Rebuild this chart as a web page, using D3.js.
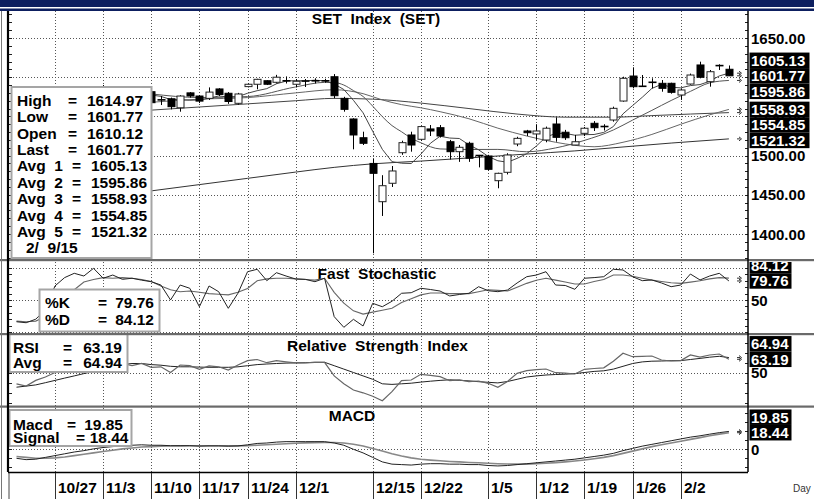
<!DOCTYPE html>
<html>
<head>
<meta charset="utf-8">
<script src="https://cdnjs.cloudflare.com/ajax/libs/d3/7.8.5/d3.min.js"></script>
<style>
body { margin: 0; background: #fff; }
svg text { font-family: "Liberation Sans", Arial, sans-serif; white-space: pre; }
</style>
</head>
<body>
<div id="chart"></div>
<script>

// trading days shown on the chart
var dates = ["10/20","10/21","10/22","10/24","10/27","10/28","10/29","10/30","10/31",
	"11/3","11/4","11/5","11/6","11/7","11/10","11/11","11/12","11/13","11/14",
	"11/17","11/18","11/19","11/20","11/21","11/24","11/25","11/26","11/27","11/28",
	"12/1","12/2","12/3","12/4","12/8","12/9","12/11","12/12","12/15","12/16","12/17","12/18","12/19",
	"12/22","12/23","12/24","12/25","12/26","12/29","12/30",
	"1/5","1/6","1/7","1/8","1/9","1/12","1/13","1/14","1/15","1/16","1/19","1/20","1/21","1/22","1/23",
	"1/26","1/27","1/28","1/29","1/30","2/2","2/3","2/4","2/5","2/6","2/9"];

// week labels on the date axis
var weekLabels = ["10/27","11/3","11/10","11/17","11/24","12/1","12/15","12/22","1/5","1/12","1/19","1/26","2/2"];

// daily prices
var open = [1560,1556,1558,1566,1571,1575,1575,1580,1579,1584,1584,1580,1582,1577,1581.5,1571,1572.5,1561,1580,1576,
	1573,1585,1579.5,1566.7,1588,1591,1595.5,1593.5,1595.3,1591,1595.2,1595.3,1595.3,1600.6,1573,1546.7,1522.8,1490,1441.2,1464.7,
	1503.7,1526.3,1520.8,1534,1535.6,1517.7,1505,1515.7,1500.2,1499.5,1468,1478.7,1514.8,1531.4,1527.6,1519.9,1540.3,1529.8,1513.5,1528.4,
	1541.2,1537.2,1545.4,1569.6,1601.5,1588.5,1593.6,1592.2,1592.2,1577.3,1591.3,1615.6,1594.3,1614.9,1610.12];
var high = [1563,1560,1566,1572,1578,1580,1583,1584,1585,1590,1585,1585,1584,1583,1584,1576,1574,1577,1581,1577,
	1587,1586,1581,1580,1592,1598,1596,1603,1601,1597.7,1597.7,1598.6,1598,1604,1575,1547.6,1530.5,1495.7,1475,1486.7,
	1519,1530.5,1538,1539,1539,1520,1513.5,1517.7,1500.8,1501,1478.2,1503,1524,1532.8,1540,1537,1548.8,1532.8,1526.3,1536.5,
	1544,1540,1562.4,1600.6,1612.6,1602.8,1598.6,1596.4,1593,1585.8,1604.6,1619.8,1609.2,1616.5,1614.97];
var low = [1552,1550,1556,1563,1569,1572,1574,1576,1578,1582,1578,1574,1575,1572,1565,1564.5,1559,1556,1574,1567,
	1571,1576,1566,1565,1587,1584.6,1590,1592,1592,1587,1587.5,1592,1593,1573,1556,1508,1513.5,1375.4,1423,1460,
	1501,1505,1519,1525,1523,1495,1492,1492,1485,1481,1458.3,1476,1512,1525,1520,1517,1517.7,1520,1513.5,1525,
	1531.4,1532,1543.3,1568.7,1585.8,1587.9,1585.8,1581.5,1579,1571,1590.4,1598.6,1587.9,1609.2,1601.77];
var close = [1555,1557,1565,1570,1576,1574,1581,1578,1583,1584,1580,1582,1577,1580,1567.5,1571.2,1562.4,1576,1576,1569.5,
	1581,1578,1569,1578.6,1591,1597.3,1591,1600,1595.5,1594.8,1595,1595.5,1595.5,1576.4,1559,1526.3,1515.7,1477.4,1461.6,1480.4,
	1516.5,1513.5,1537,1531.4,1525,1505,1510.6,1496.6,1500,1482.5,1477.4,1500.8,1522,1529.2,1531.4,1534.9,1523.3,1522.8,1517.7,1534.9,
	1535.6,1537,1560.3,1598.6,1587.9,1588.3,1593.4,1585.8,1580.7,1583.7,1602.8,1599.9,1607,1614.7,1601.77];

// moving average 1, daily from 11/10
var avg1Start = "11/10";
var avg1 = [1577.3,1575.5,1571.6,1571.4,1570.6,1571,1573,1576.1,1574.7,1575.2,1579.5,1582.8,1585.4,1591.6,1595,1595.7,
	1595.3,1596.2,1595.3,1591.4,1584.3,1570.5,1554.6,1531,1508,1492.3,1490.3,1489.9,1501.8,1515.8,1524.7,1522.4,1521.8,
	1513.7,1507.4,1498.9,1493.4,1491.5,1496.5,1502.4,1512.2,1523.7,1528.2,1528.3,1526,1526.7,1526.9,1529.6,1537.1,1553.3,
	1563.9,1574.4,1585.7,1590.8,1587.2,1586.4,1589.3,1590.6,1594.8,1601.6,1605.13];

// moving averages 2 to 5, read at selected days
var avg2 = [["11/10",1578.7],["11/17",1574.1],["11/24",1575.3],["12/1",1587.6],["12/4",1593.4],["12/8",1593.2],
	["12/9",1590],["12/11",1582.9],["12/12",1575.4],["12/15",1563.1],["12/16",1549.7],["12/17",1538.3],["12/18",1530.4],
	["12/19",1522.2],["12/22",1516.4],["12/24",1508.5],["12/29",1507.8],["1/6",1507.9],["1/9",1504.9],["1/14",1509.8],
	["1/19",1519.4],["1/22",1532.7],["1/26",1545.3],["1/28",1557.7],["1/30",1570.3],["2/3",1581.9],["2/5",1592.8],["2/9",1595.86]];
var avg3 = [["11/10",1568],["11/17",1572],["11/24",1574],["12/1",1580],["12/8",1584],["12/12",1579],["12/16",1571],
	["12/18",1565],["12/22",1561],["12/24",1556],["12/29",1547],["1/6",1535],["1/9",1525],["1/14",1517],["1/20",1511.3],
	["1/23",1517],["1/28",1527],["2/2",1540],["2/5",1552],["2/9",1558.93]];
var avg4 = [["11/10",1558],["11/17",1562],["11/24",1566],["12/1",1570],["12/8",1573],["12/15",1572],["12/22",1567],
	["12/29",1560],["1/8",1553],["1/15",1549],["1/22",1549],["1/28",1551],["2/3",1553],["2/9",1554.85]];
var avg5 = [["11/10",1455],["11/17",1463],["11/24",1471],["12/1",1479],["12/8",1485],["12/15",1489.5],["12/22",1493],
	["12/29",1497],["1/9",1502],["1/16",1506],["1/23",1511],["1/30",1516],["2/9",1521.32]];

// fast stochastic
var stochK = [16,14.5,20,35,72,85,91.7,87.5,99.5,84,89,82.3,84,81,78.6,73.4,50,73.4,68.3,39.5,
	71.9,63,37,60.5,94.2,98,80.2,92.7,87.5,82.8,82.3,78.6,84,24,7.3,19.8,9.4,44.8,39.5,48,
	60.5,61.4,68.3,66.4,64,56.3,58.6,60.5,70.8,64.5,63,65.6,76.6,86.4,89,94.2,73.4,72.7,66.7,84,
	85,86.4,98,96.9,86.4,80.2,81.3,76.6,70.8,73.4,90.6,81.3,87.5,91.7,79.76];
var stochD = [17,16,17,24,40,55,66,78,82,85,84,85,84,82,79,72,66,63,64,62,
	60,59,58,62,68,80,83,84,84,83,82,81,84,62,45,33,28,31,34,37,
	46,52,58,61,61,60,60,60,63,66,65,64,70,76,81,84,81,78,75,75,
	79,82,89,89,87,84,81,79,77,76,78,80,83,85,84.12];

// relative strength index
var rsi = [38.7,36.4,42.1,45.5,50,52.3,56.8,55.7,60.2,61.3,57.9,59,56.8,59,55.2,55.7,50,57.5,56.8,53.2,
	56.6,55.7,52.5,57.5,61.8,63,59.8,61.8,60.7,59.6,59.6,60.2,60.2,46.6,38.7,32.5,29.7,26.3,21.8,30.8,
	41.8,42.5,48.2,47.2,45.8,41.8,42.7,40.8,41.5,39.2,35.2,41,49.2,51.8,52.8,53.5,49.8,49.4,48.5,53.2,
	54,54.7,61.3,69.2,65.8,66.2,66.5,62.5,61.5,61.9,67.5,65.3,67.5,68.5,63.19];
var rsiAvg = [35.3,36.4,37.6,39.8,42.1,44.4,46.6,48.9,51.1,54.5,56.8,57.9,59,59,57.9,57.3,56.2,55.7,55.7,55.4,
	55.2,55.2,55.2,55.7,56.8,57.9,58.5,59,59.4,59.6,59.8,60.2,60.2,56.8,53.4,50,46.6,43.2,38.7,38.1,
	38.7,39.3,40.4,41.3,42.1,42.7,42.2,41.6,40.8,40.2,39.6,41,43.2,45.5,46.6,47.5,48,48.3,48.9,50,
	51.1,51.7,53.4,56.2,59,60.6,61.3,61.5,61.8,61.9,63,64.1,65.3,66.2,64.94];

// macd
var macd = [-10,-11.5,-11,-9,-7,-5,-3,-1.5,0.5,2,3,4,4.5,5,4.5,4.5,4,4,4,3.5,
	3.8,3.8,3.5,3.8,5,6.5,7,8,8.5,8.5,8.5,8.5,8.5,7,4.5,0,-4,-9,-14,-16.5,
	-17,-17.5,-16.5,-16,-16,-16.5,-16.5,-17,-17,-18,-18.5,-18,-17,-16,-15,-14,-13,-12,-11,-9.5,
	-8,-6.5,-4.5,-1.5,1,3.5,5.5,7.5,9.5,11.5,13.5,15,16.8,18.5,19.85];
var signal = [-8,-9,-10,-10,-9.5,-8.5,-7,-5.5,-4,-2.5,-1,0.5,1.5,2.5,3,3.5,3.7,3.8,3.9,3.9,
	3.9,3.9,3.8,3.8,4,4.5,5,5.6,6.2,6.7,7.1,7.4,7.6,7.5,7,5.6,3.6,1,-2,-5,
	-7.5,-9.5,-11,-12,-12.8,-13.5,-14,-14.6,-15,-15.5,-16,-16.4,-16.5,-16.5,-16.1,-15.5,-14.8,-14,-13,-11.8,
	-10.5,-9,-7,-4.5,-2,0.5,3,5,7,9,11,13,15,16.9,18.44];

// tick values on the right axes
var priceTicks = [1400,1450,1500,1550,1600,1650];


var fmt = d3.format(".2f");
var last = dates.length - 1;
var plotLeft = 8, plotRight = 748;

// panel heights
var pricePanel = {top: 11, bottom: 259},
	stochPanel = {top: 262, bottom: 334},
	rsiPanel = {top: 336, bottom: 406},
	macdPanel = {top: 408, bottom: 472};

// scales
var x = d3.scalePoint().domain(dates).range([16.5, 728.9]);
var yPrice = d3.scaleLinear().domain([1400, 1650]).range([234, 38]);
var yStoch = d3.scaleLinear().domain([0, 100]).range([332, 268]);
var yRsi = d3.scaleLinear().domain([50, 60]).range([372.5, 362.5]);
var yMacd = d3.scaleLinear().domain([0, 20]).range([449.3, 431.3]);

var svg = d3.select("#chart")
	.append("svg")
	.attr("width", 814)
	.attr("height", 499)
	.style("display", "block");

// clip paths for every panel
var defs = svg.append("defs");
[["price", pricePanel], ["stoch", stochPanel], ["rsi", rsiPanel], ["macd", macdPanel]].forEach(function(p){

	defs.append("clipPath").attr("id", "clip-" + p[0])
		.append("rect")
		.attr("x", plotLeft + 1).attr("y", p[1].top)
		.attr("width", plotRight - plotLeft - 2).attr("height", p[1].bottom - p[1].top);

	defs.append("clipPath").attr("id", "clipr-" + p[0])
		.append("rect")
		.attr("x", plotRight).attr("y", p[1].top)
		.attr("width", 814 - plotRight).attr("height", p[1].bottom - p[1].top);
});

// banner at the top
svg.append("rect").attr("x", 0).attr("y", 0).attr("width", 814).attr("height", 7).attr("fill", "#0d1f60");
svg.append("rect").attr("x", 0).attr("y", 8.5).attr("width", 814).attr("height", 2.5).attr("fill", "#0d1f60");

// dotted grid of one panel
function drawGrid(panel, yScale, values){

	var g = svg.append("g");

	g.selectAll("line.v")
		.data(weekLabels)
		.enter()
		.append("line")
		.attr("x1", function(d){ return Math.round(x(d)) + 0.5; })
		.attr("x2", function(d){ return Math.round(x(d)) + 0.5; })
		.attr("y1", panel.top)
		.attr("y2", panel.bottom)
		.attr("stroke", "#555")
		.attr("stroke-dasharray", "1,2");

	g.selectAll("line.h")
		.data(values)
		.enter()
		.append("line")
		.attr("x1", plotLeft + 2)
		.attr("x2", plotRight - 3)
		.attr("y1", function(d){ return Math.round(yScale(d)) + 0.5; })
		.attr("y2", function(d){ return Math.round(yScale(d)) + 0.5; })
		.attr("stroke", "#555")
		.attr("stroke-dasharray", "1,2");
}

// minor ticks on the left border and right axis
function drawMinorTicks(panel, yScale, step){

	var lo = Math.ceil(yScale.invert(panel.bottom) / step) * step,
		hi = yScale.invert(panel.top + 2);
	var vals = d3.range(lo, hi, step);

	svg.append("g")
		.selectAll("path")
		.data(vals)
		.enter()
		.append("path")
		.attr("d", function(d){
			var yy = Math.round(yScale(d)) + 0.5;
			return "M" + (plotLeft + 1) + "," + yy + "H" + (plotLeft + 4) +
				"M" + (plotRight - 3) + "," + yy + "H" + plotRight;
		})
		.attr("stroke", "#222");
}

// panel title
function drawTitle(txt, cx, baseline){

	svg.append("text")
		.attr("x", cx)
		.attr("y", baseline)
		.attr("text-anchor", "middle")
		.attr("font-size", "15.5px")
		.attr("font-weight", "bold")
		.text(txt);
}

// indicator line
function drawLine(values, yScale, clipId, color, widthLine){

	var line = d3.line()
		.x(function(d, i){ return x(dates[i]); })
		.y(function(d){ return yScale(d); });

	svg.append("path")
		.datum(values)
		.attr("clip-path", "url(#" + clipId + ")")
		.attr("fill", "none")
		.attr("stroke", color)
		.attr("stroke-width", widthLine)
		.attr("d", line);
}

// value labels at the right, stacked around the anchor value
function drawValueLabels(values, anchor, yScale, panelId, boxWidth){

	var h = 15.5;
	var sorted = values.slice().sort(function(a, b){ return b - a; });
	var k = sorted.indexOf(anchor);
	var ys = sorted.map(function(v){ return yScale(v); });
	for (var i = k - 1; i >= 0; i--) ys[i] = Math.min(ys[i], ys[i + 1] - h);
	for (var j = k + 1; j < ys.length; j++) ys[j] = Math.max(ys[j], ys[j - 1] + h);

	var g = svg.append("g").attr("clip-path", "url(#clipr-" + panelId + ")");

	g.selectAll("rect")
		.data(sorted)
		.enter()
		.append("rect")
		.attr("x", plotRight + 1.5)
		.attr("y", function(d, i){ return ys[i] - h / 2; })
		.attr("width", boxWidth)
		.attr("height", h)
		.attr("fill", "#000");

	g.selectAll("text")
		.data(sorted)
		.enter()
		.append("text")
		.attr("x", plotRight + 3)
		.attr("y", function(d, i){ return ys[i] + 5.5; })
		.attr("fill", "#fff")
		.attr("font-size", "15px")
		.attr("font-weight", "bold")
		.text(function(d){ return fmt(d); });

	// small markers at the real value
	svg.append("g")
		.selectAll("path")
		.data(values)
		.enter()
		.append("path")
		.attr("d", function(d){
			var yy = yScale(d);
			return "M737," + yy + "h3M739," + (yy - 2) + "l2.5,2l-2.5,2";
		})
		.attr("fill", "none")
		.attr("stroke", "#333");
}

// plain tick labels at the right
function drawTickLabels(values, yScale, format){

	svg.append("g")
		.selectAll("text")
		.data(values)
		.enter()
		.append("text")
		.attr("x", plotRight + 3)
		.attr("y", function(d){ return yScale(d) + 5.5; })
		.attr("font-size", "15px")
		.attr("font-weight", "bold")
		.text(format);
}

// legend box with rows [label, "=", value] 
function drawLegend(box, rows){

	var g = svg.append("g");

	g.append("rect")
		.attr("x", box.x)
		.attr("y", box.y)
		.attr("width", box.w)
		.attr("height", box.h)
		.attr("fill", "#fff")
		.attr("stroke", "#a5a5a5")
		.attr("stroke-width", 2);

	rows.forEach(function(r){

		g.append("text")
			.attr("x", r.lx)
			.attr("y", r.y)
			.attr("font-size", "15.5px")
			.attr("font-weight", "bold")
			.text(r.label);

		if (r.eq != null){
			g.append("text")
				.attr("x", r.eq)
				.attr("y", r.y)
				.attr("font-size", "15.5px")
				.attr("font-weight", "bold")
				.text("=");
		}

		if (r.value != null){
			g.append("text")
				.attr("x", r.vx)
				.attr("y", r.y)
				.attr("text-anchor", "end")
				.attr("font-size", "15.5px")
				.attr("font-weight", "bold")
				.text(r.value);
		}
	});
}


// ----- price panel -----
drawGrid(pricePanel, yPrice, priceTicks);
drawMinorTicks(pricePanel, yPrice, 10);
drawTitle("SET  Index  (SET)", 376, 24);

var priceG = svg.append("g").attr("clip-path", "url(#clip-price)");

// moving averages
var avgLine = d3.line()
	.x(function(d){ return x(d[0]); })
	.y(function(d){ return yPrice(d[1]); })
	.curve(d3.curveMonotoneX);

[[avg5, "#333"], [avg4, "#444"], [avg3, "#666"], [avg2, "#555"]].forEach(function(a){

	priceG.append("path")
		.datum(a[0])
		.attr("fill", "none")
		.attr("stroke", a[1])
		.attr("stroke-width", 1)
		.attr("d", avgLine);
});

var startIdx = dates.indexOf(avg1Start);
priceG.append("path")
	.datum(avg1)
	.attr("fill", "none")
	.attr("stroke", "#444")
	.attr("stroke-width", 1)
	.attr("d", d3.line()
		.x(function(d, i){ return x(dates[startIdx + i]); })
		.y(function(d){ return yPrice(d); }));

// candles
var candles = priceG.selectAll("g.candle")
	.data(dates)
	.enter()
	.append("g")
	.attr("class", "candle");

candles.append("line")
	.attr("x1", function(d){ return Math.round(x(d)) + 0.5; })
	.attr("x2", function(d){ return Math.round(x(d)) + 0.5; })
	.attr("y1", function(d, i){ return yPrice(high[i]); })
	.attr("y2", function(d, i){ return yPrice(low[i]); })
	.attr("stroke", "#000");

candles.each(function(d, i){

	var cx = Math.round(x(d)) + 0.5;
	var top = yPrice(Math.max(open[i], close[i])),
		bot = yPrice(Math.min(open[i], close[i]));

	if (bot - top < 1.2){
		d3.select(this).append("line")
			.attr("x1", cx - 4).attr("x2", cx + 4)
			.attr("y1", (top + bot) / 2).attr("y2", (top + bot) / 2)
			.attr("stroke", "#000")
			.attr("stroke-width", 1.6);
	} else {
		d3.select(this).append("rect")
			.attr("x", cx - 3.5)
			.attr("y", top)
			.attr("width", 7)
			.attr("height", bot - top)
			.attr("fill", close[i] >= open[i] ? "#fff" : "#000")
			.attr("stroke", close[i] >= open[i] ? "#222" : "#000");
	}
});

drawTickLabels(priceTicks, yPrice, fmt);
drawValueLabels([avg1[avg1.length - 1], close[last], avg2[avg2.length - 1][1], avg3[avg3.length - 1][1],
	avg4[avg4.length - 1][1], avg5[avg5.length - 1][1]], close[last], yPrice, "price", 60);

// price legend
var rowsPrice = [];
var plain = [["High", high[last]], ["Low", low[last]], ["Open", open[last]], ["Last", close[last]]];
plain.forEach(function(r, i){
	rowsPrice.push({label: r[0], value: fmt(r[1]), y: 106 + i * 16.36, lx: 17, eq: 68, vx: 143});
});
var avgs = [avg1[avg1.length - 1], avg2[avg2.length - 1][1], avg3[avg3.length - 1][1], avg4[avg4.length - 1][1], avg5[avg5.length - 1][1]];
avgs.forEach(function(v, i){
	rowsPrice.push({label: "Avg  " + (i + 1), value: fmt(v), y: 106 + (i + 4) * 16.36, lx: 17, eq: 72, vx: 147});
});
rowsPrice.push({label: "2/  9/15", value: null, eq: null, y: 106 + 9 * 16.36, lx: 26});
drawLegend({x: 11.5, y: 87, w: 140, h: 171}, rowsPrice);


// ----- stochastic panel -----
drawGrid(stochPanel, yStoch, [0, 50, 100]);
drawMinorTicks(stochPanel, yStoch, 10);
drawTitle("Fast  Stochastic", 377, 279);
drawLine(stochD, yStoch, "clip-stoch", "#666", 1.1);
drawLine(stochK, yStoch, "clip-stoch", "#222", 1);
drawTickLabels([50], yStoch, function(d){ return d; });
drawValueLabels([stochK[last], stochD[last]], stochK[last], yStoch, "stoch", 42);
drawLegend({x: 39.5, y: 289.5, w: 120, h: 42}, [
	{label: "%K", y: 308.3, lx: 45, eq: 98, value: fmt(stochK[last]), vx: 154},
	{label: "%D", y: 325, lx: 45, eq: 98, value: fmt(stochD[last]), vx: 154}
]);


// ----- rsi panel -----
drawGrid(rsiPanel, yRsi, [50]);
drawMinorTicks(rsiPanel, yRsi, 10);
drawTitle("Relative  Strength  Index", 377.5, 351);
drawLine(rsiAvg, yRsi, "clip-rsi", "#222", 1);
drawLine(rsi, yRsi, "clip-rsi", "#666", 1.2);
drawTickLabels([50], yRsi, function(d){ return d; });
drawValueLabels([rsi[last], rsiAvg[last]], rsi[last], yRsi, "rsi", 42);
drawLegend({x: 9.5, y: 334, w: 118, h: 38}, [
	{label: "RSI", y: 352.7, lx: 13, eq: 63, value: fmt(rsi[last]), vx: 122},
	{label: "Avg", y: 367.5, lx: 13, eq: 63, value: fmt(rsiAvg[last]), vx: 122}
]);


// ----- macd panel -----
drawGrid(macdPanel, yMacd, [0]);
drawMinorTicks(macdPanel, yMacd, 10);
drawTitle("MACD", 352, 421);
drawLine(signal, yMacd, "clip-macd", "#888", 1.6);
drawLine(macd, yMacd, "clip-macd", "#222", 1);
drawTickLabels([0], yMacd, function(d){ return d; });
drawValueLabels([macd[last], signal[last]], signal[last], yMacd, "macd", 42);
drawLegend({x: 9.5, y: 410, w: 122, h: 36}, [
	{label: "Macd", y: 429.5, lx: 13, eq: 67, value: fmt(macd[last]), vx: 123},
	{label: "Signal", y: 443, lx: 13, eq: 76, value: fmt(signal[last]), vx: 128.5}
]);


// ----- frame, separators and date band -----
[259, 333, 405.5].forEach(function(yy){
	svg.append("rect").attr("x", 0).attr("y", yy).attr("width", 814).attr("height", 2.2).attr("fill", "#6a6a6a");
});

svg.append("line")
	.attr("x1", 1.5).attr("x2", 1.5).attr("y1", 11).attr("y2", 499)
	.attr("stroke", "#777");
svg.append("line")
	.attr("x1", plotLeft).attr("x2", plotLeft).attr("y1", 11).attr("y2", 472)
	.attr("stroke", "#000").attr("stroke-width", 2.2);
svg.append("line")
	.attr("x1", plotLeft + 1).attr("x2", plotLeft + 1).attr("y1", 472).attr("y2", 499)
	.attr("stroke", "#444");
svg.append("line")
	.attr("x1", plotRight).attr("x2", plotRight).attr("y1", 11).attr("y2", 472)
	.attr("stroke", "#000").attr("stroke-width", 1.5);
svg.append("line")
	.attr("x1", plotLeft).attr("x2", plotRight).attr("y1", 472.5).attr("y2", 472.5)
	.attr("stroke", "#000").attr("stroke-width", 1.5);

var dateBand = svg.append("g");

dateBand.selectAll("line")
	.data(weekLabels)
	.enter()
	.append("line")
	.attr("x1", function(d){ return Math.round(x(d)) + 0.5; })
	.attr("x2", function(d){ return Math.round(x(d)) + 0.5; })
	.attr("y1", 473)
	.attr("y2", 499)
	.attr("stroke", "#333");

dateBand.selectAll("text")
	.data(weekLabels)
	.enter()
	.append("text")
	.attr("x", function(d){ return Math.round(x(d)) + 3; })
	.attr("y", 493)
	.attr("font-size", "15.5px")
	.attr("font-weight", "bold")
	.text(function(d){ return d; });

svg.append("text")
	.attr("x", 793)
	.attr("y", 492)
	.attr("font-size", "10px")
	.attr("fill", "#333")
	.text("Day");

</script>
</body>
</html>
